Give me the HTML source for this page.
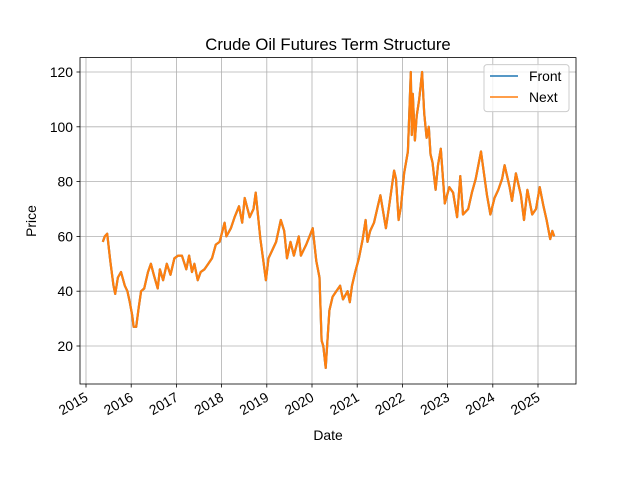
<!DOCTYPE html>
<html><head><meta charset="utf-8"><style>
html,body{margin:0;padding:0;background:#fff;}
svg{display:block;font-family:"Liberation Sans","DejaVu Sans",sans-serif;}
</style></head><body>
<svg id="chart" width="640" height="480">
<rect width="640" height="480" fill="#fff"/>
<g id="grid"></g>
<g id="series"></g>
<rect x="80" y="57.6" width="496" height="326.4" fill="none" stroke="#000" stroke-width="0.8"/>
<g id="axes"></g>
<text x="328" y="50" text-anchor="middle" font-size="16.7">Crude Oil Futures Term Structure</text>
<text x="328" y="440" text-anchor="middle" font-size="13.9">Date</text>
<text transform="translate(36,221) rotate(-90)" text-anchor="middle" font-size="13.9">Price</text>
<g>
<rect x="484" y="64.6" width="85" height="47" rx="3" fill="#fff" fill-opacity="0.8" stroke="#ccc"/>
<line x1="490" y1="76" x2="518" y2="76" stroke="#1f77b4" stroke-width="1.5"/>
<text x="529" y="81" font-size="13.9">Front</text>
<line x1="490" y1="97" x2="518" y2="97" stroke="#ff7f0e" stroke-width="1.5"/>
<text x="529" y="102" font-size="13.9">Next</text>
</g>
</svg>
<script>
const dates = ["2015-05-15","2015-06-01","2015-06-20","2015-07-15","2015-08-10","2015-08-24","2015-09-15","2015-10-10","2015-11-10","2015-12-01","2015-12-20","2016-01-10","2016-01-20","2016-02-11","2016-03-01","2016-03-20","2016-04-15","2016-05-15","2016-06-08","2016-07-01","2016-08-02","2016-08-20","2016-09-15","2016-10-15","2016-11-14","2016-12-15","2017-01-15","2017-02-15","2017-03-20","2017-04-12","2017-05-05","2017-05-25","2017-06-21","2017-07-15","2017-08-15","2017-09-15","2017-10-15","2017-11-15","2017-12-15","2018-01-25","2018-02-09","2018-03-15","2018-04-15","2018-05-20","2018-06-15","2018-07-05","2018-08-15","2018-09-15","2018-10-03","2018-11-10","2018-12-01","2018-12-24","2019-01-15","2019-02-15","2019-03-15","2019-04-23","2019-05-20","2019-06-12","2019-07-10","2019-08-07","2019-09-16","2019-10-03","2019-11-15","2019-12-20","2020-01-07","2020-02-05","2020-03-01","2020-03-18","2020-04-01","2020-04-20","2020-05-01","2020-05-20","2020-06-15","2020-07-15","2020-08-15","2020-09-08","2020-10-15","2020-11-02","2020-11-20","2020-12-15","2021-01-15","2021-02-15","2021-03-08","2021-03-23","2021-04-15","2021-05-15","2021-06-15","2021-07-06","2021-08-20","2021-09-15","2021-10-25","2021-11-10","2021-12-01","2021-12-20","2022-01-15","2022-02-15","2022-03-08","2022-03-16","2022-03-24","2022-04-11","2022-04-25","2022-05-15","2022-06-08","2022-06-25","2022-07-14","2022-08-01","2022-08-15","2022-09-01","2022-09-26","2022-10-15","2022-11-07","2022-12-09","2023-01-15","2023-02-15","2023-03-17","2023-04-12","2023-05-04","2023-06-15","2023-07-15","2023-08-15","2023-09-27","2023-10-15","2023-11-15","2023-12-12","2024-01-15","2024-02-15","2024-03-15","2024-04-05","2024-05-15","2024-06-04","2024-07-05","2024-08-15","2024-09-10","2024-10-07","2024-11-15","2024-12-15","2025-01-15","2025-02-15","2025-03-10","2025-04-08","2025-04-25","2025-05-10"];
const frontValues = [58,60,61,51,42,39,45,47,42,40,36,31,27,27,34,40,41,47,50,46,41,48,44,50,46,52,53,53,48,53,47,50,44,47,48,50,52,57,58,65,60,63,67,71,65,74,67,70,76,59,52,44,52,55,58,66,62,52,58,53,60,53,57,61,63,51,45,22,20,12,20,33,38,40,42,37,40,36,42,47,52,59,66,58,62,65,71,75,63,71,84,81,66,71,83,91,120,97,112,95,104,110,120,105,96,100,90,87,77,86,92,72,78,76,67,82,68,70,76,81,91,85,75,68,74,77,81,86,78,73,83,75,66,77,68,70,78,71,66,59,62,60];
const nextValues = [58,60,61,51,42,39,45,47,42,40,36,31,27,27,34,40,41,47,50,46,41,48,44,50,46,52,53,53,48,53,47,50,44,47,48,50,52,57,58,65,60,63,67,71,65,74,67,70,76,59,52,44,52,55,58,66,62,52,58,53,60,53,57,61,63,51,45,22,20,12,20,33,38,40,42,37,40,36,42,47,52,59,66,58,62,65,71,75,63,71,84,81,66,71,83,91,120,97,112,95,104,110,120,105,96,100,90,87,77,86,92,72,78,76,67,82,68,70,76,81,91,85,75,68,74,77,81,86,78,73,83,75,66,77,68,70,78,71,66,59,62,60];
const yTicks = [20,40,60,80,100,120];
const xTicks = [2015,2016,2017,2018,2019,2020,2021,2022,2023,2024,2025];

const NS="http://www.w3.org/2000/svg";
function yPos(v){return 346-(v-20)*2.74;}
function xPos(t){return 86+(t-2015)*45.2;}
function dec(s){const p=s.split("-").map(Number);return p[0]+(p[1]-1)/12+(p[2]-1)/365;}
function mk(tag,attrs,parent){const e=document.createElementNS(NS,tag);for(const k in attrs)e.setAttribute(k,attrs[k]);parent.appendChild(e);return e;}
const grid=document.getElementById("grid"),axes=document.getElementById("axes"),series=document.getElementById("series");
yTicks.forEach(v=>{const y=yPos(v);
 const g=mk("line",{x1:80,x2:576,y1:y,y2:y,stroke:"#b0b0b0","stroke-width":0.8},grid);
 
 
 mk("line",{x1:76.5,x2:80,y1:y,y2:y,stroke:"#000","stroke-width":0.8},axes);
 const t=mk("text",{x:73,y:y+5,"text-anchor":"end","font-size":13.9},axes);t.textContent=v;
 
 
});
xTicks.forEach(v=>{const x=xPos(v);
 const g=mk("line",{x1:x,x2:x,y1:57.6,y2:384,stroke:"#b0b0b0","stroke-width":0.8},grid);
 
 
 mk("line",{x1:x,x2:x,y1:384,y2:387.5,stroke:"#000","stroke-width":0.8},axes);
 const t=mk("text",{x:0,y:0,"text-anchor":"end","font-size":13.9,transform:`translate(${x+3},${400}) rotate(-30)`},axes);t.textContent=v;
 
 
});
function draw(vals,color,name,w){
 const d=vals.map((v,i)=>(i?"L":"M")+xPos(dec(dates[i])).toFixed(1)+","+yPos(v).toFixed(1)).join("");
 const p=mk("path",{d:d,fill:"none",stroke:color,"stroke-width":w,"stroke-linejoin":"round"},series);
 
 
}
draw(frontValues,"#1f77b4","front-line",2.2);
draw(nextValues,"#ff7f0e","next-line",2.2);
</script>
</body></html>
